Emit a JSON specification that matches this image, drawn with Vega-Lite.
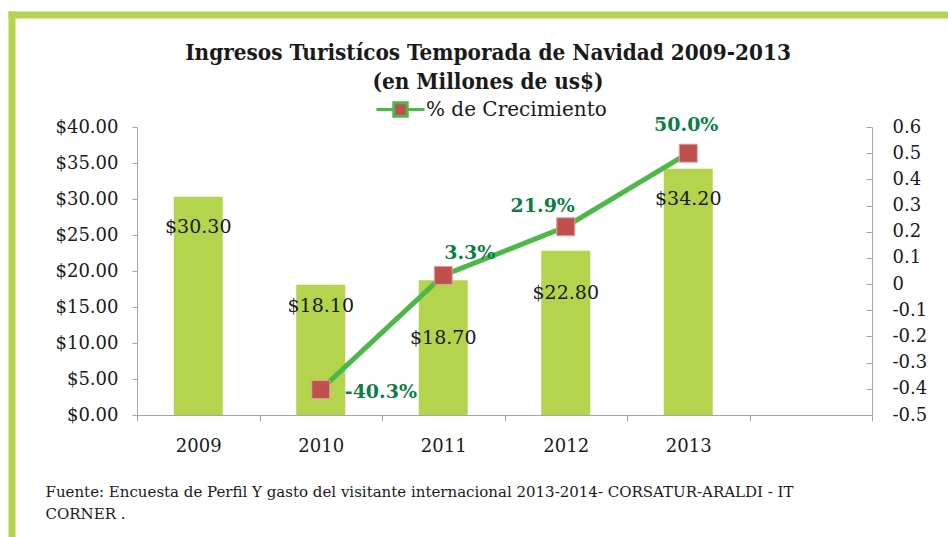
{
  "$schema": "https://vega.github.io/schema/vega-lite/v6.json",
  "width": 735,
  "height": 288,
  "padding": {"left": 5, "top": 14, "right": 0, "bottom": 0},
  "background": "white",
  "datasets": {
    "main": [
      {"year": "2009", "ingresos": 30.3, "crec": null},
      {"year": "2010", "ingresos": 18.1, "crec": -0.403},
      {"year": "2011", "ingresos": 18.7, "crec": 0.033},
      {"year": "2012", "ingresos": 22.8, "crec": 0.219},
      {"year": "2013", "ingresos": 34.2, "crec": 0.5}
    ],
    "frame": [{"b": 0}]
  },
  "layer": [
    {
      "data": {"name": "main"},
      "layer": [
        {
          "layer": [
            {
              "mark": {"type": "bar", "color": "#b5d44e", "width": {"band": 0.4}},
              "encoding": {
                "x": {
                  "field": "year", "type": "nominal", "sort": null,
                  "scale": {"type": "band", "domain": ["2009", "2010", "2011", "2012", "2013", ""], "paddingInner": 0, "paddingOuter": 0},
                  "axis": {
                    "tickBand": "extent", "tickSize": 6, "labelAngle": 0, "labelPadding": 16,
                    "domainColor": "#a6a6a6", "tickColor": "#a6a6a6", "grid": false,
                    "labelFont": "DejaVu Serif", "labelFontSize": 18, "labelColor": "#1a1a1a",
                    "title": ["Fuente: Encuesta de  Perfil Y gasto del visitante internacional  2013-2014- CORSATUR-ARALDI - IT", "CORNER ."],
                    "titleFont": "DejaVu Serif", "titleFontSize": 15, "titleFontWeight": "normal", "titleColor": "#1a1a1a",
                    "titleX": -92, "titleY": 69, "titleAlign": "left", "titleAnchor": "start", "titleBaseline": "top", "titleLineHeight": 22, "titleLimit": 900
                  }
                },
                "y": {
                  "field": "ingresos", "type": "quantitative",
                  "scale": {"domain": [0, 40], "nice": false},
                  "axis": {
                    "values": [0, 5, 10, 15, 20, 25, 30, 35, 40], "tickCount": 50, "format": "$.2f",
                    "tickSize": 5, "labelPadding": 14, "domainColor": "#a6a6a6", "tickColor": "#a6a6a6",
                    "grid": false, "title": null, "labelOverlap": false, "labelBound": false,
                    "labelFont": "DejaVu Serif", "labelFontSize": 18, "labelColor": "#1a1a1a"
                  }
                }
              }
            },
            {
              "transform": [{"filter": "datum.year == '2009' || datum.year == '2013'"}],
              "mark": {"type": "text", "font": "DejaVu Serif", "fontSize": 19, "color": "#1a1a1a", "baseline": "middle", "dy": 30},
              "encoding": {
                "x": {"field": "year", "type": "nominal"},
                "y": {"field": "ingresos", "type": "quantitative"},
                "text": {"field": "ingresos", "type": "quantitative", "format": "$.2f"}
              }
            },
            {
              "transform": [{"filter": "datum.year == '2010'"}],
              "mark": {"type": "text", "font": "DejaVu Serif", "fontSize": 19, "color": "#1a1a1a", "baseline": "middle", "dy": 21},
              "encoding": {
                "x": {"field": "year", "type": "nominal"},
                "y": {"field": "ingresos", "type": "quantitative"},
                "text": {"field": "ingresos", "type": "quantitative", "format": "$.2f"}
              }
            },
            {
              "transform": [{"filter": "datum.year == '2011'"}],
              "mark": {"type": "text", "font": "DejaVu Serif", "fontSize": 19, "color": "#1a1a1a", "baseline": "middle", "dy": 58},
              "encoding": {
                "x": {"field": "year", "type": "nominal"},
                "y": {"field": "ingresos", "type": "quantitative"},
                "text": {"field": "ingresos", "type": "quantitative", "format": "$.2f"}
              }
            },
            {
              "transform": [{"filter": "datum.year == '2012'"}],
              "mark": {"type": "text", "font": "DejaVu Serif", "fontSize": 19, "color": "#1a1a1a", "baseline": "middle", "dy": 42},
              "encoding": {
                "x": {"field": "year", "type": "nominal"},
                "y": {"field": "ingresos", "type": "quantitative"},
                "text": {"field": "ingresos", "type": "quantitative", "format": "$.2f"}
              }
            }
          ]
        },
        {
          "transform": [{"filter": "datum.crec != null"}],
          "layer": [
            {
              "mark": {"type": "line", "strokeWidth": 5},
              "encoding": {
                "x": {"field": "year", "type": "nominal"},
                "y": {
                  "field": "crec", "type": "quantitative",
                  "scale": {"domain": [-0.5, 0.6], "nice": false, "zero": false},
                  "axis": {
                    "orient": "right",
                    "values": [-0.5, -0.4, -0.3, -0.2, -0.1, 0, 0.1, 0.2, 0.3, 0.4, 0.5, 0.6], "tickCount": 50, "format": ".1~f",
                    "tickSize": -6, "labelPadding": 26, "domainColor": "#a6a6a6", "tickColor": "#a6a6a6",
                    "grid": false, "title": null, "labelOverlap": false, "labelBound": false,
                    "labelFont": "DejaVu Serif", "labelFontSize": 18, "labelColor": "#1a1a1a", "labelAlign": "left"
                  }
                },
                "color": {
                  "datum": "% de Crecimiento", "type": "nominal",
                  "scale": {"range": ["#4db848"]},
                  "legend": {
                    "orient": "none", "legendX": 238, "legendY": -43, "title": null, "padding": 0,
                    "symbolType": "M-1,0H-0.28M0.28,0H1M-0.28,-0.28H0.28V0.28H-0.28Z",
                    "symbolSize": 2304, "symbolStrokeWidth": 3,
                    "labelFont": "DejaVu Serif", "labelFontSize": 20, "labelColor": "#1a1a1a", "labelOffset": 0, "labelLimit": 400,
                    "encode": {
                      "symbols": {"update": {"fill": {"value": "#c0504d"}, "stroke": {"value": "#4db848"}, "strokeWidth": {"value": 3}, "size": {"value": 2304}}}
                    }
                  }
                }
              }
            },
            {
              "mark": {"type": "square", "filled": true, "fill": "#c0504d", "stroke": "#dfa3a1", "strokeWidth": 1, "size": 324, "opacity": 1},
              "encoding": {
                "x": {"field": "year", "type": "nominal"},
                "y": {"field": "crec", "type": "quantitative"}
              }
            },
            {
              "transform": [{"filter": "datum.year == '2010'"}],
              "mark": {"type": "text", "font": "DejaVu Serif", "fontWeight": "bold", "fontSize": 19, "color": "#0a7e43", "align": "left", "baseline": "middle", "dx": 24, "dy": 2},
              "encoding": {
                "x": {"field": "year", "type": "nominal"},
                "y": {"field": "crec", "type": "quantitative"},
                "text": {"field": "crec", "type": "quantitative", "format": ".1%"}
              }
            },
            {
              "transform": [{"filter": "datum.year == '2011'"}],
              "mark": {"type": "text", "font": "DejaVu Serif", "fontWeight": "bold", "fontSize": 19, "color": "#0a7e43", "align": "left", "baseline": "middle", "dx": 1, "dy": -22},
              "encoding": {
                "x": {"field": "year", "type": "nominal"},
                "y": {"field": "crec", "type": "quantitative"},
                "text": {"field": "crec", "type": "quantitative", "format": ".1%"}
              }
            },
            {
              "transform": [{"filter": "datum.year == '2012'"}],
              "mark": {"type": "text", "font": "DejaVu Serif", "fontWeight": "bold", "fontSize": 19, "color": "#0a7e43", "align": "center", "baseline": "middle", "dx": -23, "dy": -21},
              "encoding": {
                "x": {"field": "year", "type": "nominal"},
                "y": {"field": "crec", "type": "quantitative"},
                "text": {"field": "crec", "type": "quantitative", "format": ".1%"}
              }
            },
            {
              "transform": [{"filter": "datum.year == '2013'"}],
              "mark": {"type": "text", "font": "DejaVu Serif", "fontWeight": "bold", "fontSize": 19, "color": "#0a7e43", "align": "center", "baseline": "middle", "dx": -2, "dy": -28},
              "encoding": {
                "x": {"field": "year", "type": "nominal"},
                "y": {"field": "crec", "type": "quantitative"},
                "text": {"field": "crec", "type": "quantitative", "format": ".1%"}
              }
            }
          ]
        }
      ],
      "resolve": {"scale": {"y": "independent"}}
    },
    {
      "data": {"name": "frame"},
      "mark": {"type": "point", "opacity": 0},
      "encoding": {
        "x": {
          "field": "b", "type": "quantitative",
          "scale": {"domain": [0, 1], "range": [-129, 811], "nice": false, "zero": false},
          "axis": {
            "orient": "top", "offset": 112.5, "domainColor": "#b5d44e", "domainWidth": 7,
            "ticks": false, "labels": false, "grid": false,
            "title": ["Ingresos Turistícos Temporada de Navidad 2009-2013", "(en Millones de us$)"],
            "titleFont": "'DejaVu Serif Condensed', 'Liberation Serif', serif", "titleFontSize": 22.3, "titleFontWeight": "bold", "titleColor": "#1a1a1a",
            "titleX": 350.5, "titleY": 26.5, "titleAlign": "center", "titleBaseline": "top", "titleLineHeight": 29, "titleAngle": 0, "titleLimit": 900
          }
        },
        "y": {
          "field": "b", "type": "quantitative",
          "scale": {"domain": [0, 1], "range": [420, -116], "nice": false, "zero": false},
          "axis": {
            "orient": "left", "offset": 125.5, "domainColor": "#b5d44e", "domainWidth": 7,
            "ticks": false, "labels": false, "grid": false, "title": null
          }
        }
      }
    }
  ],
  "resolve": {"scale": {"x": "independent", "y": "independent"}},
  "config": {
    "view": {"stroke": null},
    "legend": {"labelFont": "DejaVu Serif"},
    "locale": {"number": {"decimal": ".", "thousands": ",", "grouping": [3], "currency": ["$", ""], "minus": "-"}}
  }
}
